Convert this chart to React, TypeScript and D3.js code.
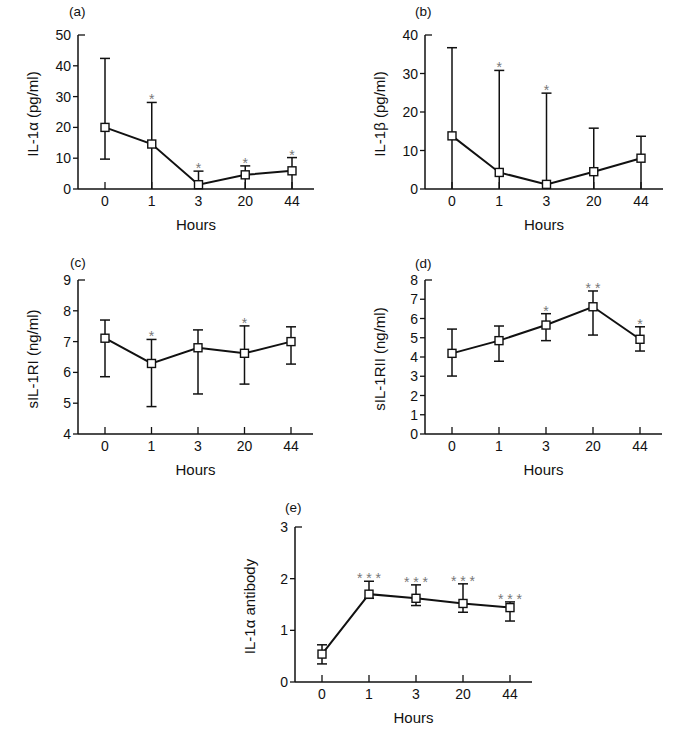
import React from "react";
import * as d3 from "d3";

const hours = ["0", "1", "3", "20", "44"];

// (a) IL-1alpha
const il1aMean = [20, 14.6, 1.4, 4.6, 5.9];
const il1aUpper = [42.4, 28.1, 5.8, 7.5, 10.2];
const il1aLower = [9.7, 0, 0, 0, 0];
const il1aStars = ["", "*", "*", "*", "*"];
const il1aTicks = [0, 10, 20, 30, 40, 50];

// (b) IL-1beta
const il1bMean = [13.8, 4.3, 1.2, 4.5, 8.0];
const il1bUpper = [36.7, 30.8, 24.9, 15.8, 13.7];
const il1bLower = [0, 0, 0, 0, 0];
const il1bStars = ["", "*", "*", "", ""];
const il1bTicks = [0, 10, 20, 30, 40];

// (c) sIL-1RI
const sri1Mean = [7.11, 6.29, 6.8, 6.62, 7.0];
const sri1Upper = [7.7, 7.07, 7.38, 7.51, 7.48];
const sri1Lower = [5.86, 4.89, 5.3, 5.62, 6.27];
const sri1Stars = ["", "*", "", "*", ""];
const sri1Ticks = [4, 5, 6, 7, 8, 9];

// (d) sIL-1RII
const sri2Mean = [4.19, 4.85, 5.66, 6.61, 4.92];
const sri2Upper = [5.45, 5.61, 6.25, 7.43, 5.57];
const sri2Lower = [3.01, 3.78, 4.85, 5.14, 4.31];
const sri2Stars = ["", "", "*", "* *", "*"];
const sri2Ticks = [0, 1, 2, 3, 4, 5, 6, 7, 8];

// (e) IL-1alpha antibody
const abMean = [0.54, 1.7, 1.62, 1.52, 1.44];
const abUpper = [0.72, 1.95, 1.88, 1.9, 1.55];
const abLower = [0.35, 1.62, 1.48, 1.35, 1.18];
const abStars = ["", "* * *", "* * *", "* * *", "* * *"];
const abTicks = [0, 1, 2, 3];

const font = "'Liberation Sans', Arial, Helvetica, sans-serif";

type PanelProps = {
  tag: string;
  tagX: number;
  tagY: number;
  title: string;
  left: number;
  top: number;
  bottom: number;
  right: number;
  ticks: number[];
  mean: number[];
  upper: number[];
  lower: number[];
  stars: string[];
};

const Panel = ({ tag, tagX, tagY, title, left, top, bottom, right, ticks, mean, upper, lower, stars }: PanelProps) => {
  const yMin = ticks[0];
  const yMax = ticks[ticks.length - 1];
  const y = d3.scaleLinear().domain([yMin, yMax]).range([bottom, top]);
  const x = d3.scalePoint<string>().domain(hours).range([left + 27, right - 22]);

  const pts = hours.map((h, i) => [x(h) as number, y(mean[i])] as [number, number]);
  const line = d3.line()(pts) || "";
  const sq = 8;

  return (
    <g fontFamily={font} fill="#111">
      <text x={tagX} y={tagY} fontSize={13.5}>{tag}</text>
      {/* axes */}
      <line x1={left} x2={left} y1={top} y2={bottom} stroke="#111" strokeWidth={1.5} />
      <line x1={left} x2={right} y1={bottom} y2={bottom} stroke="#111" strokeWidth={1.5} />
      <line x1={left} x2={left + 7} y1={top} y2={top} stroke="#111" strokeWidth={1.3} />
      {ticks.map((t) => (
        <g key={t}>
          {t !== yMax && <line x1={left - 5} x2={left} y1={y(t)} y2={y(t)} stroke="#111" strokeWidth={1.3} />}
          <text x={left - 7} y={y(t)} dy="0.36em" textAnchor="end" fontSize={14}>{t}</text>
        </g>
      ))}
      {hours.map((h) => (
        <g key={h}>
          <line x1={x(h)} x2={x(h)} y1={bottom} y2={bottom - 7} stroke="#111" strokeWidth={1.3} />
          <text x={x(h)} y={bottom + 17} textAnchor="middle" fontSize={14}>{h}</text>
        </g>
      ))}
      <text x={(left + right) / 2} y={bottom + 41} textAnchor="middle" fontSize={15}>Hours</text>
      <text
        transform={`translate(${left - 45},${(top + bottom) / 2 + 2}) rotate(-90)`}
        textAnchor="middle"
        dy="0.35em"
        fontSize={15}
      >
        {title}
      </text>
      {/* error bars */}
      {hours.map((h, i) => {
        const cx = x(h) as number;
        return (
          <g key={"e" + h} stroke="#111" strokeWidth={1.5}>
            <line x1={cx} x2={cx} y1={y(lower[i])} y2={y(upper[i])} />
            <line x1={cx - 5} x2={cx + 5} y1={y(upper[i])} y2={y(upper[i])} />
            {lower[i] > yMin && <line x1={cx - 5} x2={cx + 5} y1={y(lower[i])} y2={y(lower[i])} />}
          </g>
        );
      })}
      <path d={line} fill="none" stroke="#111" strokeWidth={2} />
      {pts.map(([px, py], i) => (
        <rect key={"s" + i} x={px - sq / 2} y={py - sq / 2} width={sq} height={sq} fill="#fff" stroke="#111" strokeWidth={1.4} />
      ))}
      {hours.map((h, i) =>
        stars[i] ? (
          <text key={"a" + h} x={x(h)} y={y(upper[i]) + 2} textAnchor="middle" fontSize={14} fill="#777">
            {stars[i]}
          </text>
        ) : null
      )}
    </g>
  );
};

export default function App() {
  return (
    <svg width={684} height={733} style={{ position: "absolute", left: 0, top: 0, background: "#fff" }}>
      <rect width={684} height={733} fill="#fff" />
      <Panel tag="(a)" tagX={69} tagY={16} title="IL-1α (pg/ml)" left={78} top={35} bottom={189} right={314}
        ticks={il1aTicks} mean={il1aMean} upper={il1aUpper} lower={il1aLower} stars={il1aStars} />
      <Panel tag="(b)" tagX={415} tagY={16} title="IL-1β (pg/ml)" left={425} top={35} bottom={189} right={663}
        ticks={il1bTicks} mean={il1bMean} upper={il1bUpper} lower={il1bLower} stars={il1bStars} />
      <Panel tag="(c)" tagX={70} tagY={267} title="sIL-1RI (ng/ml)" left={78} top={280} bottom={434} right={313}
        ticks={sri1Ticks} mean={sri1Mean} upper={sri1Upper} lower={sri1Lower} stars={sri1Stars} />
      <Panel tag="(d)" tagX={415} tagY={268} title="sIL-1RII (ng/ml)" left={425} top={280} bottom={434} right={662}
        ticks={sri2Ticks} mean={sri2Mean} upper={sri2Upper} lower={sri2Lower} stars={sri2Stars} />
      <Panel tag="(e)" tagX={285} tagY={512} title="IL-1α antibody" left={295} top={527} bottom={682} right={532}
        ticks={abTicks} mean={abMean} upper={abUpper} lower={abLower} stars={abStars} />
    </svg>
  );
}
